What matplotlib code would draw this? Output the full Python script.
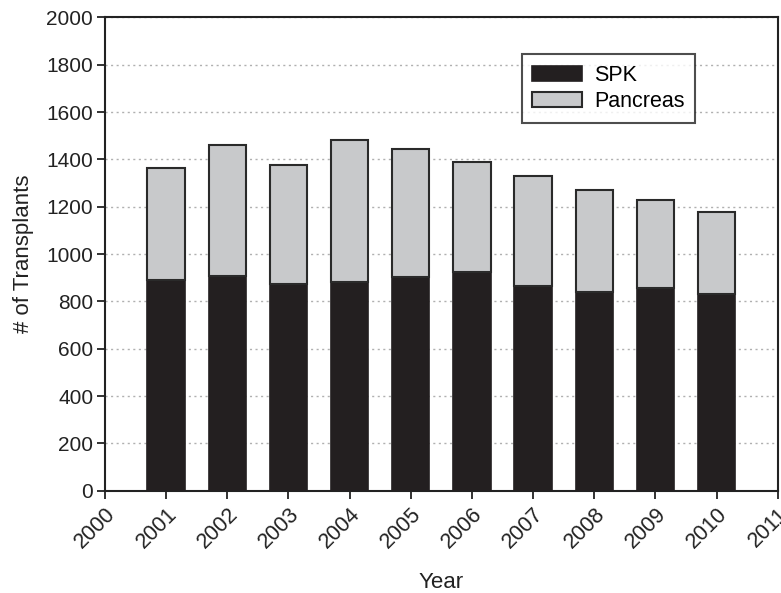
import numpy as np
import matplotlib
matplotlib.use('Agg')
import matplotlib.pyplot as plt

plt.rcParams['font.family'] = ['Liberation Sans', 'DejaVu Sans']

# valores
anos     = [2001, 2002, 2003, 2004, 2005, 2006, 2007, 2008, 2009, 2010]
spk      = [892, 909, 874, 882, 905, 924, 866, 838, 855, 830]
pancreas = [472, 553, 501, 602, 539, 465, 465, 433, 374, 347]
ticks_x  = np.arange(2000, 2012, 1)
ticks_y  = np.arange(0, 2200, 200)

fig = plt.figure(figsize=(7.81, 5.93), dpi=100)
ax = fig.add_axes([0.1344, 0.1725, 0.8614, 0.7980])

ax.bar(anos, spk, width=0.61, color='#231f20', edgecolor='#231f20', lw=1.2, label='SPK', zorder=3)
ax.bar(anos, pancreas, bottom=spk, width=0.61, color='#c8c9cb', edgecolor='#2a2a2a', lw=1.5,
       label='Pancreas', zorder=3)

ax.set_xlim(2000, 2011)
ax.set_ylim(0, 2000)
ax.set_xticks(ticks_x)
ax.set_yticks(ticks_y)
ax.set_xticklabels([str(t) for t in ticks_x], rotation=45, ha='right', rotation_mode='anchor')
ax.tick_params(labelsize=15, length=5.5, width=1.3, color='#222222', labelcolor='#222222')
ax.tick_params(axis='x', pad=4, labelsize=15.5)
ax.tick_params(axis='y', pad=3)
ax.yaxis.grid(True, ls=(0, (1.5, 2.5)), color='#b0b0b0', lw=1.0, zorder=0)
for s in ax.spines.values():
    s.set_linewidth(1.5)
    s.set_color('#222222')

ax.set_xlabel('Year', fontsize=16, color='#222222', labelpad=14)
ax.set_ylabel('# of Transplants', fontsize=16, color='#222222', labelpad=9)

leg = ax.legend(loc='upper left', bbox_to_anchor=(0.6194, 0.9229), fontsize=15.5, frameon=True,
                fancybox=False, edgecolor='#222222', handlelength=2.3, handleheight=0.7,
                borderpad=0.5, labelspacing=0.25, handletextpad=0.55, borderaxespad=0)
leg.get_frame().set_linewidth(1.5)

fig.savefig('out.png', dpi=100)
